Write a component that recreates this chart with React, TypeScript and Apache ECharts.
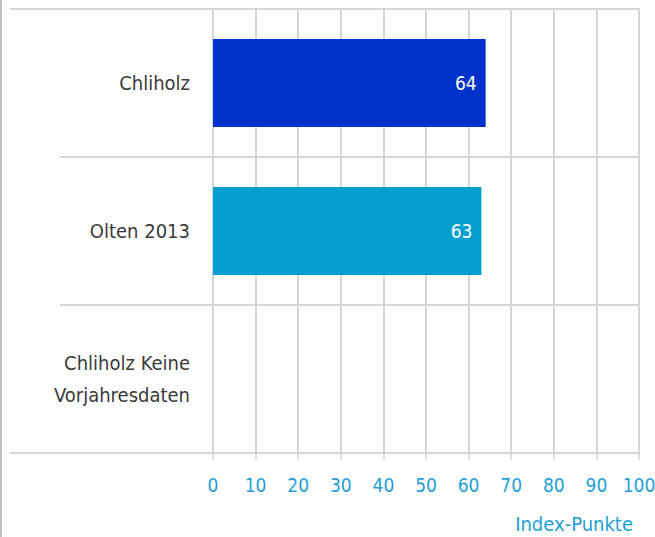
import React, { useEffect, useRef } from "react";
import * as echarts from "echarts";

const categories = ["Chliholz", "Olten 2013", "Chliholz Keine\nVorjahresdaten"];
const values: (number | null)[] = [64, 63, null];
const barColors = ["#0033cc", "#009fcf", "#009fcf"];
const xMin = 0;
const xMax = 100;
const xInterval = 10;
const axisName = "Index-Punkte";

const FONT = "'Liberation Sans Narrow', 'Arial Narrow', 'DejaVu Sans Condensed', 'Liberation Sans', sans-serif";
const GRID_COLOR = "#d3d5d9";
const BLUE_TEXT = "#1ea0d6";

export default function App() {
  const ref = useRef<HTMLDivElement>(null);
  useEffect(() => {
    if (!ref.current) return;
    const chart = echarts.init(ref.current, undefined, { renderer: "svg" });
    chart.setOption({
      animation: false,
      backgroundColor: "#ffffff",
      grid: { left: 213, right: 16, top: 9, bottom: 84, containLabel: false, outerBoundsMode: "none" },
      xAxis: {
        type: "value",
        min: xMin,
        max: xMax,
        interval: xInterval,
        axisLine: { show: false },
        axisTick: { show: true, length: 7, lineStyle: { color: GRID_COLOR, width: 1.5 } },
        splitLine: { show: true, lineStyle: { color: GRID_COLOR, width: 2 } },
        axisLabel: { color: BLUE_TEXT, fontFamily: FONT, fontSize: 19, margin: 22 },
      },
      yAxis: {
        type: "category",
        data: categories,
        inverse: true,
        axisLine: { show: false },
        axisTick: { show: true, length: 153, lineStyle: { color: GRID_COLOR, width: 2 } },
        splitLine: { show: true, lineStyle: { color: GRID_COLOR, width: 2 } },
        axisLabel: {
          color: "#3a3a3a",
          fontFamily: FONT,
          fontSize: 20,
          lineHeight: 32,
          margin: 23,
          align: "right",
        },
      },
      series: [
        {
          type: "bar",
          barWidth: 88,
          data: values.map((v, i) => ({ value: v, itemStyle: { color: barColors[i] } })),
          label: {
            show: true,
            position: "insideRight",
            distance: 9,
            color: "#ffffff",
            fontFamily: FONT,
            fontSize: 19,
          },
        },
      ],
      graphic: [
        { type: "line", shape: { x1: 1, y1: 0, x2: 1, y2: 537 }, style: { stroke: "#c0c0c0", lineWidth: 2 } },
        { type: "line", shape: { x1: 10, y1: 9, x2: 640, y2: 9 }, style: { stroke: GRID_COLOR, lineWidth: 2 } },
        { type: "line", shape: { x1: 10, y1: 453, x2: 640, y2: 453 }, style: { stroke: GRID_COLOR, lineWidth: 2 } },
        {
          type: "text",
          right: 22,
          top: 514,
          style: { text: axisName, fill: BLUE_TEXT, font: `20px ${FONT}` },
        },
      ],
    });
    return () => chart.dispose();
  }, []);
  return <div ref={ref} style={{ width: 655, height: 537, position: "absolute", left: 0, top: 0 }} />;
}
